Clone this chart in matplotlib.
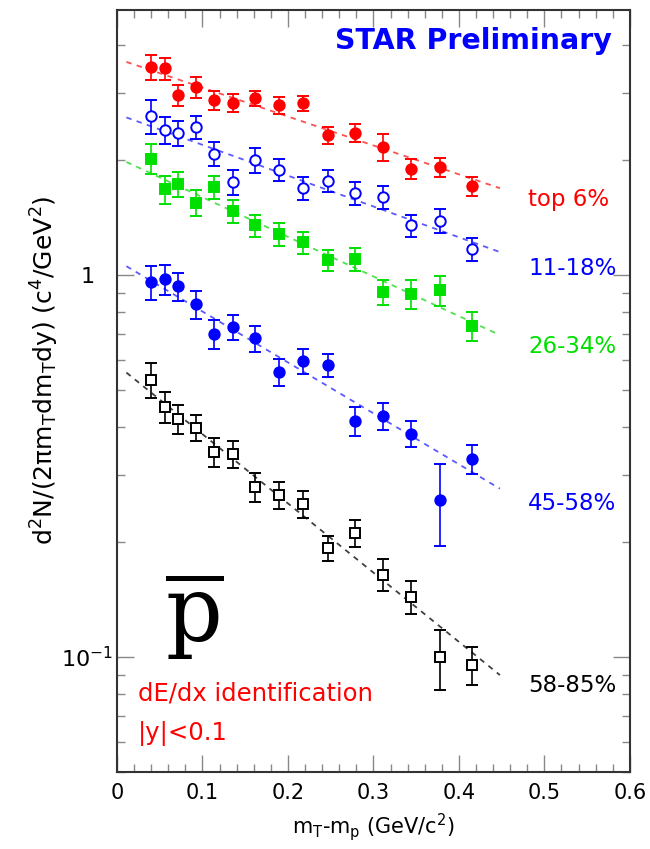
import numpy as np
import matplotlib
matplotlib.use("Agg")
import matplotlib.pyplot as plt
from matplotlib.ticker import MultipleLocator, FixedLocator, NullFormatter

# m_T - m_p bin centres (GeV/c^2), same for every centrality class
mt = [0.040, 0.056, 0.071, 0.092, 0.113, 0.136, 0.162, 0.190, 0.218, 0.247,
      0.279, 0.311, 0.344, 0.378, 0.415]

# spectra
top6 = [3.51, 3.48, 2.96, 3.11, 2.87, 2.83, 2.91, 2.79, 2.82, 2.33, 2.36, 2.17, 1.90, 1.92, 1.71]
top6_err = [0.26, 0.23, 0.18, 0.19, 0.16, 0.16, 0.13, 0.14, 0.12, 0.12, 0.13, 0.18, 0.11, 0.11, 0.10]
c11_18 = [2.61, 2.40, 2.36, 2.44, 2.08, 1.755, 2.00, 1.89, 1.69, 1.77, 1.64, 1.60, 1.35, 1.39, 1.17]
c11_18_err = [0.26, 0.19, 0.18, 0.17, 0.15, 0.13, 0.15, 0.13, 0.12, 0.12, 0.11, 0.11, 0.09, 0.10, 0.08]
c26_34 = [2.02, 1.68, 1.73, 1.55, 1.70, 1.47, 1.35, 1.28, 1.22, 1.095, 1.10, 0.904, 0.892, 0.913, 0.737]
c26_34_err = [0.18, 0.14, 0.13, 0.12, 0.12, 0.10, 0.09, 0.09, 0.08, 0.07, 0.075, 0.066, 0.078, 0.080, 0.063]
c45_58 = [0.960, 0.976, 0.936, 0.840, 0.701, 0.732, 0.683, 0.558, 0.597, 0.581, 0.415, 0.428, 0.385, 0.258, 0.331]
c45_58_err = [0.100, 0.089, 0.080, 0.070, 0.061, 0.057, 0.053, 0.045, 0.045, 0.041, 0.036, 0.034, 0.031, 0.063, 0.029]
c58_85 = [0.533, 0.452, 0.421, 0.399, 0.345, 0.340, 0.279, 0.266, 0.252, 0.1925, 0.2116, 0.1645, 0.1438, 0.100, 0.0953]
c58_85_err = [0.056, 0.043, 0.037, 0.032, 0.030, 0.028, 0.024, 0.022, 0.020, 0.0145, 0.0176, 0.0156, 0.0144, 0.018, 0.011]

# exponential fits, drawn between the end points of the fit range
fit_x = [0.011, 0.448]
fit_top6 = [3.62, 1.69]
fit_11_18 = [2.59, 1.15]
fit_26_34 = [1.98, 0.697]
fit_45_58 = [1.056, 0.276]
fit_58_85 = [0.556, 0.0897]

labels = ["top 6%", "11-18%", "26-34%", "45-58%", "58-85%"]
label_y = [1.58, 1.04, 0.652, 0.253, 0.084]

RED = "#ff0000"
BLUE = "#0000ff"
GREEN = "#00e000"

series = [
    (top6, top6_err, fit_top6, RED, "o", True, "#ff5050"),
    (c11_18, c11_18_err, fit_11_18, BLUE, "o", False, "#5a5aff"),
    (c26_34, c26_34_err, fit_26_34, GREEN, "s", True, "#50e050"),
    (c45_58, c45_58_err, fit_45_58, BLUE, "o", True, "#5a5aff"),
    (c58_85, c58_85_err, fit_58_85, "black", "s", False, "#404040"),
]
label_colors = [RED, BLUE, GREEN, BLUE, "black"]

fig = plt.figure(figsize=(6.5, 8.49), dpi=100)
ax = fig.add_axes([0.18, 0.0907, 0.789, 0.8975])

for vals, errs, fit, col, mk, filled, fitcol in series:
    ax.plot(fit_x, fit, ls=(0, (3, 3)), color=fitcol, lw=1.3, zorder=1)
    ax.errorbar(mt, vals, yerr=errs, fmt=mk, color=col, ecolor=col,
                mfc=col if filled else "white", mec=col,
                ms=7.5 if mk == "o" else 7, mew=1.4, elinewidth=1.2,
                capsize=4, capthick=1.2, zorder=3)

for lab, yy, col in zip(labels, label_y, label_colors):
    ax.text(0.481, yy, lab, color=col, fontsize=16.5, va="center", ha="left")

ax.set_yscale("log")
ax.set_xlim(0, 0.6)
ax.set_ylim(0.05, 4.95)

ax.xaxis.set_minor_locator(MultipleLocator(0.02))
ax.set_xticks([0, 0.1, 0.2, 0.3, 0.4, 0.5, 0.6])
ax.set_xticklabels(["0", "0.1", "0.2", "0.3", "0.4", "0.5", "0.6"])
ax.yaxis.set_major_locator(FixedLocator([0.1, 1]))
ax.set_yticklabels(["$10^{-1}$", "1"], ha="center")
minors = [k * 0.01 for k in range(5, 10)] + [k * 0.1 for k in range(2, 10)] + [k * 1.0 for k in range(2, 5)]
ax.yaxis.set_minor_locator(FixedLocator(minors))
ax.yaxis.set_minor_formatter(NullFormatter())

ax.tick_params(which="both", direction="in", top=True, right=True, colors="#888888",
               labelcolor="black")
ax.tick_params(axis="x", labelsize=15, pad=8)
ax.tick_params(axis="y", labelsize=16, pad=21.5)
ax.tick_params(which="major", length=12, width=1)
ax.tick_params(which="minor", length=6, width=1)
for s in ax.spines.values():
    s.set_linewidth(1.5)
    s.set_color("#333333")

ax.set_xlabel("m$_\\mathregular{T}$-m$_\\mathregular{p}$ (GeV/c$^\\mathregular{2}$)", fontsize=15, labelpad=6)
fig.text(45 / 650, 1 - 370 / 849,
         "d$^\\mathregular{2}$N/(2\u03c0m$_\\mathregular{T}$dm$_\\mathregular{T}$dy) (c$^\\mathregular{4}$/GeV$^\\mathregular{2}$)",
         rotation=90, fontsize=18, ha="center", va="center")

ax.text(0.965, 0.978, "STAR Preliminary", transform=ax.transAxes, color=BLUE,
        fontsize=20.5, fontweight="bold", ha="right", va="top")
ax.text(0.094, 0.144, "$\\overline{\\mathdefault{p}}$", transform=ax.transAxes,
        family="DejaVu Serif", fontsize=64, ha="left", va="bottom")
ax.text(0.04, 0.103, "dE/dx identification", transform=ax.transAxes, color=RED,
        fontsize=17.5, ha="left", va="center")
ax.text(0.04, 0.051, "|y|<0.1", transform=ax.transAxes, color=RED,
        fontsize=17.5, ha="left", va="center")

fig.savefig("out.png", dpi=100)
